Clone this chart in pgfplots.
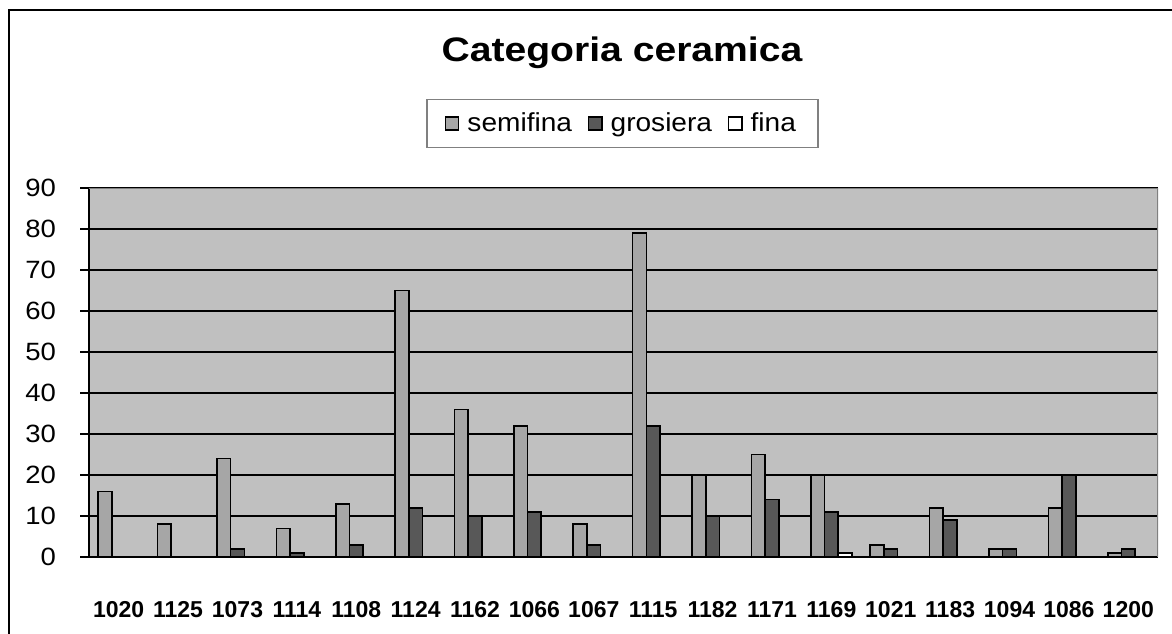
\documentclass[border=0pt]{standalone}
\usepackage{fontspec}
\setmainfont{Liberation Sans}
\newfontfamily\titlefont{Liberation Sans}[FakeStretch=1.15]
\newfontfamily\legfont{Liberation Sans}[FakeStretch=1.08]
\newfontfamily\yfont{Liberation Sans}[FakeStretch=1.1]
\newfontfamily\xfont{Liberation Sans}
\usepackage{pgfplots}
\pgfplotsset{compat=1.18}
\definecolor{plotbg}{HTML}{C0C0C0}
\definecolor{semi}{HTML}{A6A6A6}
\definecolor{gros}{HTML}{585858}
\definecolor{frameg}{HTML}{808080}
\begin{document}
\begin{tikzpicture}
\useasboundingbox (0,0) rectangle (586pt,-316.5pt);
\draw[line width=1.2pt] (4.6pt,-330pt) -- (4.6pt,-5pt) -- (600pt,-5pt);
\node[anchor=base, font=\titlefont\bfseries\fontsize{17}{20}\selectfont] at (311pt,-30.85pt) {Categoria ceramica};
\begin{axis}[
  at={(44.5pt,-278.5pt)}, anchor=south west,
  scale only axis, width=534.5pt, height=184.5pt,
  xmin=-0.5, xmax=17.5, ymin=0, ymax=90,
  ytick={0,10,...,90},
  xtick={0,...,17},
  xticklabels={1020,1125,1073,1114,1108,1124,1162,1066,1067,1115,1182,1171,1169,1021,1183,1094,1086,1200},
  /pgf/number format/assume math mode=true,
  axis x line*=bottom, axis y line*=left,
  x axis line style={black, line width=0.7pt},
  y axis line style={black, line width=0.7pt},
  xtick style={draw=none},
  ytick style={black, line width=0.7pt},
  tick align=outside, major tick length=4.5pt,
  ymajorgrids, grid style={black, line width=0.7pt},
  axis background/.style={fill=plotbg},
  yticklabel style={font=\yfont\fontsize{12.5}{14}\selectfont, xshift=-8.5pt},
  xticklabel style={font=\xfont\bfseries\fontsize{11.5}{13}\selectfont, anchor=base, yshift=-25.5pt},
  ybar=0pt, bar width=6.85pt,
  legend columns=3,
  legend image code/.code={\draw[#1, line width=0.7pt] (0pt,-3.3pt) rectangle (6.6pt,3.3pt);},
  legend style={at={(0.499,1.175)}, anchor=center, draw=frameg, line width=0.7pt,
    font=\legfont\fontsize{13}{15}\selectfont, inner xsep=9pt, inner ysep=4.5pt,
    /tikz/every odd column/.append style={column sep=2pt},
    /tikz/every even column/.append style={column sep=6pt}},
]
\addplot[fill=semi, draw=black, line width=0.8pt] coordinates {
(0,16)(1,8)(2,24)(3,7)(4,13)(5,65)(6,36)(7,32)(8,8)(9,79)(10,20)(11,25)(12,20)(13,3)(14,12)(15,2)(16,12)(17,1)};
\addplot[fill=gros, draw=black, line width=0.8pt] coordinates {
(2,2)(3,1)(4,3)(5,12)(6,10)(7,11)(8,3)(9,32)(10,10)(11,14)(12,11)(13,2)(14,9)(15,2)(16,20)(17,2)};
\addplot[fill=white, draw=black, line width=0.8pt] coordinates {(12,1)};
\legend{semifina,grosiera,fina}
\draw[frameg, line width=0.8pt] (rel axis cs:0,1) -- (rel axis cs:1,1) -- (rel axis cs:1,0);
\end{axis}
\end{tikzpicture}
\end{document}
